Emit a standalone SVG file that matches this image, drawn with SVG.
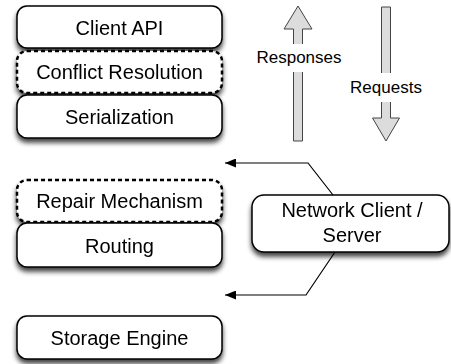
<svg xmlns="http://www.w3.org/2000/svg" width="451" height="364" viewBox="0 0 451 364">
<style>
.box{fill:#fff;stroke:#000;stroke-width:1.5}
.dash{fill:#fff;stroke:#000;stroke-width:2.5;stroke-dasharray:4,3}
.t{font-family:"Liberation Sans",Arial,sans-serif;font-size:20px;fill:#000;text-anchor:middle}
.l{font-family:"Liberation Sans",Arial,sans-serif;font-size:17px;fill:#000;text-anchor:middle}
.big{fill:#dcdcdc;stroke:#444;stroke-width:1}
.conn{fill:none;stroke:#000;stroke-width:1.2}
</style>
<defs>
<filter id="sh" x="-10%" y="-20%" width="120%" height="160%">
<feGaussianBlur in="SourceAlpha" stdDeviation="2.5"/>
<feOffset dx="0" dy="4" result="b"/>
<feComponentTransfer><feFuncA type="linear" slope="0.75"/></feComponentTransfer>
<feMerge><feMergeNode/><feMergeNode in="SourceGraphic"/></feMerge>
</filter>
<marker id="ah" markerWidth="11" markerHeight="9" refX="11" refY="4.5" orient="auto" markerUnits="userSpaceOnUse">
<path d="M0,0 L11,4.5 L0,9 Z" fill="#000"/>
</marker>
</defs>
<g id="client-api" filter="url(#sh)"><rect class="box" x="17" y="6" width="205" height="42" rx="10"/><text class="t" x="119.5" y="35">Client API</text></g>
<g id="conflict-resolution" filter="url(#sh)"><rect class="dash" x="17" y="51" width="205" height="42" rx="10"/><text class="t" x="119.5" y="79">Conflict Resolution</text></g>
<g id="serialization" filter="url(#sh)"><rect class="box" x="17" y="95" width="205" height="43" rx="10"/><text class="t" x="119.5" y="124">Serialization</text></g>
<g id="repair-mechanism" filter="url(#sh)"><rect class="dash" x="17" y="180" width="205" height="42" rx="10"/><text class="t" x="119.5" y="208">Repair Mechanism</text></g>
<g id="routing" filter="url(#sh)"><rect class="box" x="17" y="223" width="205" height="44" rx="10"/><text class="t" x="119.5" y="253">Routing</text></g>
<g id="storage-engine" filter="url(#sh)"><rect class="box" x="17" y="316" width="205" height="43" rx="10"/><text class="t" x="119.5" y="345">Storage Engine</text></g>
<g id="network" filter="url(#sh)"><rect class="box" x="252" y="195" width="197" height="57" rx="12"/><text class="t" x="352" y="217">Network Client /</text><text class="t" x="352" y="242">Server</text></g>
<g id="responses-arrow"><path class="big" d="M298,6 L312,29 L302.5,29 L302.5,141 L293.5,141 L293.5,29 L284,29 Z"/><rect x="255" y="44" width="90" height="28" fill="#fff"/><text class="l" x="299" y="63">Responses</text></g>
<g id="requests-arrow"><path class="big" d="M381.5,7 L390.5,7 L390.5,118 L399.5,118 L386,141 L372.5,118 L381.5,118 Z"/><rect x="346" y="73" width="80" height="29" fill="#fff"/><text class="l" x="386" y="93">Requests</text></g>
<g id="connectors">
<polyline class="conn" points="333,195 308,163 225,163" marker-end="url(#ah)"/>
<polyline class="conn" points="335,252 306,295 225,295" marker-end="url(#ah)"/>
</g>
</svg>
